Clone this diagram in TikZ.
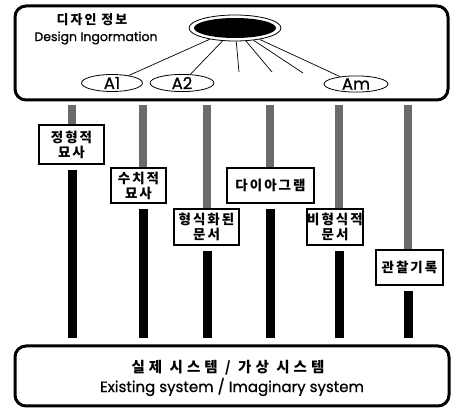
\documentclass[tikz,border=0pt]{standalone}
\usepackage{fontspec}
\setmainfont[FakeBold=0.8]{Poppins}
\newfontfamily\kr[LetterSpace=15]{Noto Sans CJK KR}
\newfontfamily\krwide[LetterSpace=28]{Noto Sans CJK KR}
\usetikzlibrary{shapes.geometric}
\tikzset{
  bigbox/.style={draw, line width=3pt, rounded corners=11pt, inner sep=0pt},
  leaf/.style={ellipse, draw, line width=0.8pt, inner sep=0pt, font=\fontsize{16.5}{16}\selectfont},
  spoke/.style={line width=0.7pt},
  docbox/.style={draw, line width=1.1pt, inner sep=0pt, align=center, font=\kr\bfseries\fontsize{13.5}{15}\selectfont},
  graybar/.style={line width=8pt, draw=black!58, shorten <=4pt},
  blackbar/.style={line width=9pt, draw=black, shorten <=5pt, shorten >=6pt},
}
\begin{document}
\begin{tikzpicture}[x=1pt,y=-1pt]
\useasboundingbox (0,0) rectangle (451,411);
% top and bottom boxes
\node[bigbox, minimum width=433pt, minimum height=94pt] (top) at (231.5,53) {};
\node[bigbox, minimum width=434pt, minimum height=60pt] (bottom) at (232,376) {};
% titles
\node[font=\kr\bfseries\fontsize{13}{13}\selectfont, inner sep=0pt] (ttl) at (92,20) {디자인 정보};
\node[font=\fontsize{12.5}{13}\selectfont, inner sep=0pt] (ttle) at (96,38) {Design Ingormation};
\node[font=\krwide\bfseries\fontsize{14.5}{15}\selectfont, inner sep=0pt] (btl) at (228,368) {실제 시스템 / 가상 시스템};
\node[font=\fontsize{15}{15}\selectfont, inner sep=0pt] (btle) at (232,387) {Existing system / Imaginary system};
% hub
\node[ellipse, draw, line width=0.8pt, minimum width=92pt, minimum height=26pt, inner sep=0pt,
  path picture={\fill (path picture bounding box.center) ellipse (41pt and 10pt);}] (hub) at (235,28) {};
\node[leaf, minimum width=61pt, minimum height=17pt] (a1) at (112,83) {A1};
\node[leaf, minimum width=64pt, minimum height=17pt] (a2) at (182,83) {A2};
\node[leaf, minimum width=64pt, minimum height=16pt] (am) at (356,84) {Am};
\coordinate (s1) at (239,72);
\coordinate (s2) at (272,72);
\coordinate (s3) at (303,73);
\draw[spoke] (hub) -- (a1);
\draw[spoke] (hub) -- (a2);
\draw[spoke] (hub) -- (am);
\draw[spoke] (hub) -- (s1);
\draw[spoke] (hub) -- (s2);
\draw[spoke] (hub) -- (s3);
% document boxes
\node[docbox, minimum width=65pt, minimum height=39pt] (b1) at (71.5,144.5) {정형적\\묘사};
\node[docbox, minimum width=55pt, minimum height=35pt] (b2) at (138.5,185.5) {수치적\\묘사};
\node[docbox, minimum width=65pt, minimum height=36pt] (b3) at (206.5,227) {형식화된\\문서};
\node[docbox, minimum width=87pt, minimum height=35pt] (b4) at (270.5,185.5) {다이아그램};
\node[docbox, minimum width=56pt, minimum height=36pt] (b5) at (335,227) {비형식적\\문서};
\node[docbox, minimum width=67pt, minimum height=35pt] (b6) at (409.5,267.5) {관찰기록};
% columns
\coordinate (k1) at (72,0);
\coordinate (k2) at (143,0);
\coordinate (k3) at (207,0);
\coordinate (k4) at (270,0);
\coordinate (k5) at (339,0);
\coordinate (k6) at (408,0);
\foreach \i in {1,...,6}{
  \draw[graybar] (top.south -| k\i) -- (b\i.north -| k\i);
  \draw[blackbar] (b\i.south -| k\i) -- (bottom.north -| k\i);
}
\end{tikzpicture}
\end{document}
